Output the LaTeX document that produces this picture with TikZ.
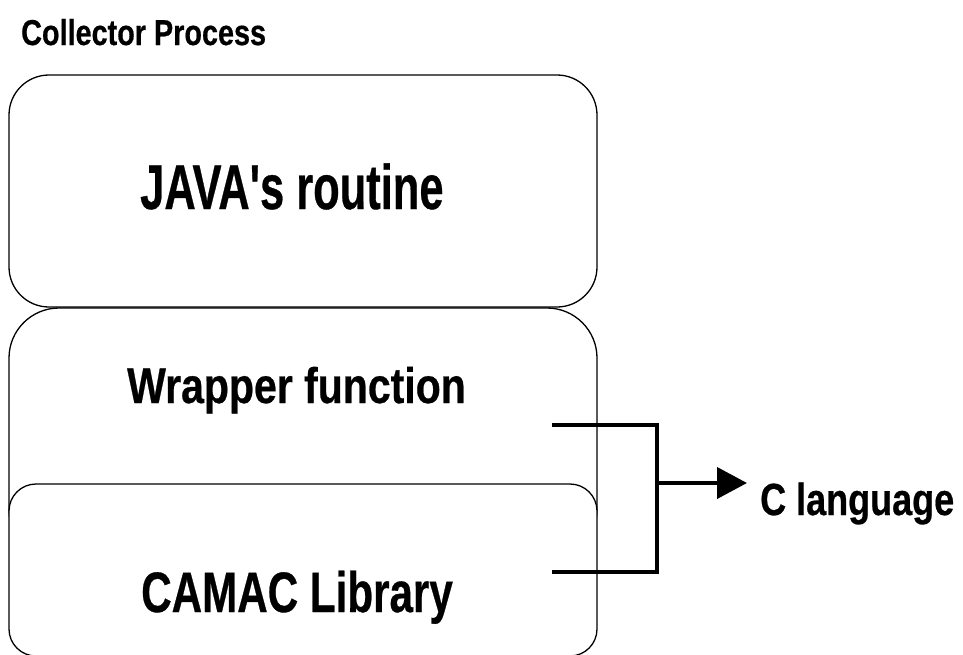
\documentclass[tikz,border=0pt]{standalone}
\usepackage{fontspec}
\setmainfont{Liberation Sans}
\newfontfamily\heavy[BoldFeatures={FakeBold=0.6}]{Liberation Sans}
\usetikzlibrary{arrows.meta}
\begin{document}
\begin{tikzpicture}[x=1pt,y=-1pt,
  layerbox/.style={draw=black,line width=1.3pt,fill=white,inner sep=0pt},
  txt/.style={anchor=base west,inner sep=0pt},
  bracket/.style={line width=4pt}]
\useasboundingbox (0,0) rectangle (963,654);

% stacked layers of the collector process
\node[layerbox,rounded corners=40pt,minimum width=588pt,minimum height=232pt] (java) at (303,191) {};
\node[layerbox,rounded corners=50pt,minimum width=588pt,minimum height=252pt] (wrap) at (303,434) {};
\node[layerbox,rounded corners=27pt,minimum width=588pt,minimum height=172pt] (camac) at (303,570) {};

% labels
\node[txt,font=\heavy\bfseries\fontsize{36}{40}\selectfont] (title) at (21,45) {\scalebox{0.80}[1]{Collector Process}};
\node[txt,font=\heavy\bfseries\fontsize{63}{70}\selectfont] (javatxt) at (140,209) {\scalebox{0.69}[1]{JAVA\textquotesingle s routine}};
\node[txt,font=\heavy\bfseries\fontsize{50}{56}\selectfont] (wraptxt) at (127,403) {\scalebox{0.82}[1]{Wrapper function}};
\node[txt,font=\heavy\bfseries\fontsize{57}{64}\selectfont] (camactxt) at (141,612) {\scalebox{0.74}[1]{CAMAC Library}};
\node[txt,font=\heavy\bfseries\fontsize{45}{50}\selectfont] (lang) at (760,515) {\scalebox{0.80}[1]{C language}};

% bracket joining the two C layers
\coordinate (wend) at (552,425);
\coordinate (cend) at (552,572);
\coordinate (jt) at (657,425);
\coordinate (jb) at (657,572);
\coordinate (jm) at (657,483);
\coordinate (tip) at (747,483);
\draw[bracket,line join=miter] (wend) -- (jt) -- (jb) -- (cend);
\draw[bracket,-{Triangle[length=30pt,width=31pt]}] (jm) -- (tip);
\end{tikzpicture}
\end{document}
